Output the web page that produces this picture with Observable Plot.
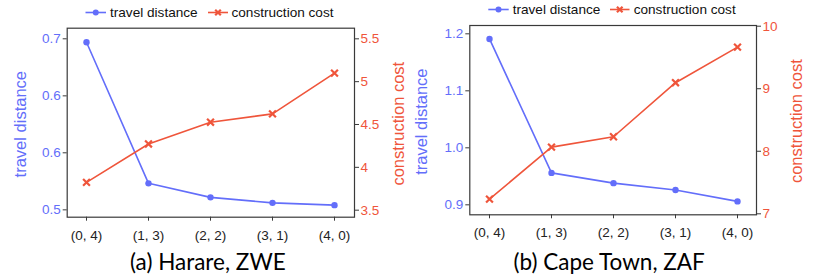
<!DOCTYPE html>
<html>
<head>
<meta charset="utf-8">
<script src="https://cdn.jsdelivr.net/npm/d3@7"></script>
<script src="https://cdn.jsdelivr.net/npm/@observablehq/plot@0.6"></script>
<style>
  body { margin: 0; background: #fff; }
  #root { position: relative; width: 822px; height: 274px; overflow: hidden; font-family: "Liberation Sans", Arial, sans-serif; }
  .panel { position: absolute; top: 0; width: 411px; height: 274px; }
  #legend { position: absolute; top: 0; left: 0; }
</style>
</head>
<body>
<div id="root">
  <div class="panel" id="pa" style="left:0"></div>
  <div class="panel" id="pb" style="left:411px"></div>
  <svg id="legend" width="822" height="26"></svg>
</div>
<script>
// ---- data ----
const categories = ["(0, 4)", "(1, 3)", "(2, 2)", "(3, 1)", "(4, 0)"];
const seriesNames = ["travel distance", "construction cost"];
const captions = ["(a) Harare, ZWE", "(b) Cape Town, ZAF"];

const harareDistance = [0.696, 0.531, 0.5146, 0.5082, 0.5055];
const harareCost = [3.824, 4.273, 4.527, 4.624, 5.10];
const capeDistance = [1.191, 0.956, 0.938, 0.926, 0.906];
const capeCost = [7.234, 8.066, 8.232, 9.096, 9.666];

const harareDistTicks = [0.5, 0.5667, 0.6333, 0.7];
const harareDistTickLabels = ["0.5", "0.6", "0.6", "0.7"];
const harareCostTicks = [3.5, 4, 4.5, 5, 5.5];
const harareCostTickLabels = ["3.5", "4", "4.5", "5", "5.5"];
const capeDistTicks = [0.9, 1.0, 1.1, 1.2];
const capeDistTickLabels = ["0.9", "1.0", "1.1", "1.2"];
const capeCostTicks = [7, 8, 9, 10];
const capeCostTickLabels = ["7", "8", "9", "10"];

const harareDistDomain = [0.4914, 0.7124];
const harareCostDomain = [3.418, 5.624];
const capeDistDomain = [0.8825, 1.2146];
const capeCostDomain = [6.984, 10.011];

const BLUE = "#636efa";
const RED = "#ef553b";
const FRAME = "#3a3a3a";

function makeChart(cfg) {
  const [d0, d1] = cfg.distDomain;
  const [c0, c1] = cfg.costDomain;
  const toY = c => d0 + (c - c0) * (d1 - d0) / (c1 - c0);
  const rows = categories.map((cat, i) => ({cat, dist: cfg.dist[i], costY: toY(cfg.cost[i])}));
  const leftMap = new Map(cfg.distTicks.map((t, i) => [t, cfg.distLabels[i]]));
  const rightTicks = cfg.costTicks.map(toY);
  const rightMap = new Map(rightTicks.map((t, i) => [t, cfg.costLabels[i]]));
  return Plot.plot({
    width: 411,
    height: 274,
    marginLeft: cfg.ml,
    marginRight: 411 - cfg.xr,
    marginTop: cfg.top,
    marginBottom: 274 - cfg.bottom,
    style: {fontFamily: "'Liberation Sans', Arial, sans-serif", fontSize: "13.5px", background: "white", overflow: "visible"},
    x: {type: "point", domain: categories, padding: 0.3},
    y: {domain: cfg.distDomain},
    marks: [
      Plot.frame({stroke: FRAME, strokeWidth: 1.2}),
      Plot.axisX({tickSize: 4, tickPadding: 9, label: null, stroke: FRAME, fill: "#222"}),
      Plot.axisY({ticks: cfg.distTicks, tickFormat: d => leftMap.get(d), anchor: "left", tickSize: 4, tickPadding: 2.5,
        label: null, stroke: FRAME, fill: BLUE}),
      Plot.axisY({ticks: rightTicks, tickFormat: d => rightMap.get(d), anchor: "right", tickSize: 4, tickPadding: 2,
        label: null, stroke: FRAME, fill: RED}),
      Plot.line(rows, {x: "cat", y: "dist", stroke: BLUE, strokeWidth: 1.6}),
      Plot.dot(rows, {x: "cat", y: "dist", fill: BLUE, r: 3.2}),
      Plot.line(rows, {x: "cat", y: "costY", stroke: RED, strokeWidth: 1.6}),
      Plot.dot(rows, {x: "cat", y: "costY", symbol: "times", stroke: RED, strokeWidth: 2.2, r: 3.2}),
      Plot.text([seriesNames[0]], {frameAnchor: "left", textAnchor: "middle", dx: cfg.ldx, dy: 1.5, rotate: -90, fill: BLUE, fontSize: 16.5}),
      Plot.text([seriesNames[1]], {frameAnchor: "right", textAnchor: "middle", dx: cfg.rdx, dy: 1, rotate: -90, fill: RED, fontSize: 16.5}),
      Plot.text([cfg.caption], {frameAnchor: "bottom", textAnchor: "middle", dx: cfg.cdx, dy: cfg.cdy, lineAnchor: "middle",
        fill: "#000", fontSize: 22.5, fontFamily: "Lato, 'Open Sans', sans-serif"})
    ]
  });
}

document.getElementById("pa").append(makeChart({
  dist: harareDistance, cost: harareCost,
  distTicks: harareDistTicks, distLabels: harareDistTickLabels,
  costTicks: harareCostTicks, costLabels: harareCostTickLabels,
  distDomain: harareDistDomain, costDomain: harareCostDomain,
  ml: 66.7, xr: 354, top: 27.7, bottom: 216.7,
  ldx: -46.7, rdx: 44, cdx: -3, cdy: 45.1, caption: captions[0]
}));
document.getElementById("pb").append(makeChart({
  dist: capeDistance, cost: capeCost,
  distTicks: capeDistTicks, distLabels: capeDistTickLabels,
  costTicks: capeCostTicks, costLabels: capeCostTickLabels,
  distDomain: capeDistDomain, costDomain: capeCostDomain,
  ml: 58.3, xr: 345, top: 25, bottom: 214.3,
  ldx: -47.6, rdx: 40, cdx: -4, cdy: 47.5, caption: captions[1]
}));

// ---- legend ----
const legendItems = [
  {x0: 85.5, x1: 106, tx: 110, y: 12.5, color: BLUE, symbol: "dot", label: seriesNames[0]},
  {x0: 208, x1: 228, tx: 231.5, y: 12.5, color: RED, symbol: "x", label: seriesNames[1]},
  {x0: 488.3, x1: 508.7, tx: 512.7, y: 9.5, color: BLUE, symbol: "dot", label: seriesNames[0]},
  {x0: 610, x1: 629.5, tx: 633.7, y: 9.5, color: RED, symbol: "x", label: seriesNames[1]}
];
const svg = d3.select("#legend");
for (const it of legendItems) {
  svg.append("line").attr("x1", it.x0).attr("x2", it.x1).attr("y1", it.y).attr("y2", it.y)
    .attr("stroke", it.color).attr("stroke-width", 1.6);
  const cx = (it.x0 + it.x1) / 2;
  if (it.symbol === "dot") {
    svg.append("circle").attr("cx", cx).attr("cy", it.y).attr("r", 3).attr("fill", it.color);
  } else {
    svg.append("path").attr("d", `M${cx-2.8},${it.y-2.8}L${cx+2.8},${it.y+2.8}M${cx-2.8},${it.y+2.8}L${cx+2.8},${it.y-2.8}`)
      .attr("stroke", it.color).attr("stroke-width", 2.2);
  }
  svg.append("text").attr("x", it.tx).attr("y", it.y).attr("dy", "0.35em")
    .attr("font-family", "'Liberation Sans', Arial, sans-serif").attr("font-size", 13.6)
    .attr("fill", "#111").text(it.label);
}
</script>
</body>
</html>
